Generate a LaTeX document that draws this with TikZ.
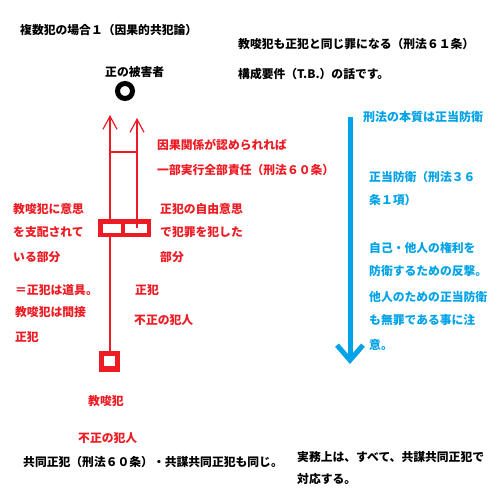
\documentclass[tikz,border=0pt]{standalone}
\usepackage{fontspec}
\setmainfont{Noto Sans CJK JP}
\usepackage{tikz}
\usetikzlibrary{arrows.meta}

\definecolor{pred}{RGB}{237,28,36}
\definecolor{pblue}{RGB}{0,162,232}

\tikzset{
  txt/.style={anchor=west, inner sep=0pt, font=\fontsize{11.8}{12}\selectfont\bfseries},
  redtxt/.style={txt, text=pred},
  bluetxt/.style={txt, text=pblue},
  redline/.style={pred, line width=1.2pt},
}

\begin{document}
\begin{tikzpicture}[x=1pt,y=-1pt]
  \useasboundingbox (0,0) rectangle (500,500);
  \fill[white] (0,0) rectangle (500,500);

  % black headings
  \node[txt] (title) at (20,30) {複数犯の場合１（因果的共犯論）};
  \node[txt] (rule61) at (238,44) {教唆犯も正犯と同じ罪になる（刑法６１条）};
  \node[txt] (tb) at (238,74) {構成要件（T.B.）の話です。};

  % the victim
  \node[txt] (victimlabel) at (105,72) {正の被害者};
  \node[circle, draw, line width=5pt, minimum size=15pt, inner sep=0pt] (victim) at (125,91) {};

  % red connectors
  \coordinate (tipL) at (110,115);
  \coordinate (tipR) at (137,118);
  \coordinate (boxL) at (110,228);
  \coordinate (boxR) at (137,228);
  \coordinate (small) at (110,351);
  \draw[redline, -{Straight Barb[length=13pt,width=14pt]}] (boxL) -- (tipL);
  \draw[redline] (small) -- (boxL);
  \draw[redline] (110,152) -- (137,152);

  % instigator / principal box
  \fill[pred] (98,219) rectangle (151,237);
  \fill[white] (103,224) rectangle (121,233);
  \fill[white] (125,224) rectangle (147,233);
  \draw[redline, -{Straight Barb[length=13pt,width=14pt]}] (boxR) -- (tipR);

  % instigator
  \fill[pred] (99,351) rectangle (120,372);
  \fill[white] (104,356) rectangle (115,366);

  % red labels
  \node[redtxt] (cause) at (157,145) {因果関係が認められれば};
  \node[redtxt] (whole) at (157,170) {一部実行全部責任（刑法６０条）};
  \node[redtxt] (ctrlA) at (13,209) {教唆犯に意思};
  \node[redtxt] (ctrlB) at (13,232) {を支配されて};
  \node[redtxt] (ctrlC) at (13,257) {いる部分};
  \node[redtxt] (freeA) at (160,209) {正犯の自由意思};
  \node[redtxt] (freeB) at (160,232) {で犯罪を犯した};
  \node[redtxt] (freeC) at (160,257) {部分};
  \node[redtxt] (toolA) at (15,290) {＝正犯は道具。};
  \node[redtxt] (toolB) at (15,312) {教唆犯は間接};
  \node[redtxt] (toolC) at (15,337) {正犯};
  \node[redtxt] (princ) at (135,290) {正犯};
  \node[redtxt] (princB) at (134,320) {不正の犯人};
  \node[redtxt] (inst) at (88,401) {教唆犯};
  \node[redtxt] (instB) at (78,438) {不正の犯人};

  % blue column
  \coordinate (btop) at (350,117);
  \coordinate (bbot) at (350,364);
  \draw[pblue, line width=5pt, -{Straight Barb[length=15pt,width=26pt]}] (btop) -- (bbot);
  \node[bluetxt, font=\fontsize{12}{12}\selectfont\bfseries] (essence) at (363,117) {刑法の本質は正当防衛};
  \node[bluetxt] (selfA) at (369,177) {正当防衛（刑法３６};
  \node[bluetxt] (selfB) at (369,200) {条１項）};
  \node[bluetxt] (selfC) at (369,248) {自己・他人の権利を};
  \node[bluetxt] (selfD) at (369,271) {防衛するための反撃。};
  \node[bluetxt] (selfE) at (369,297) {他人のための正当防衛};
  \node[bluetxt] (selfF) at (369,320) {も無罪である事に注};
  \node[bluetxt] (selfG) at (369,345) {意。};

  % black footer
  \node[txt] (joint) at (23,462) {共同正犯（刑法６０条）・共謀共同正犯も同じ。};
  \node[txt] (practA) at (297,457) {実務上は、すべて、共謀共同正犯で};
  \node[txt] (practB) at (297,479) {対応する。};
\end{tikzpicture}
\end{document}
